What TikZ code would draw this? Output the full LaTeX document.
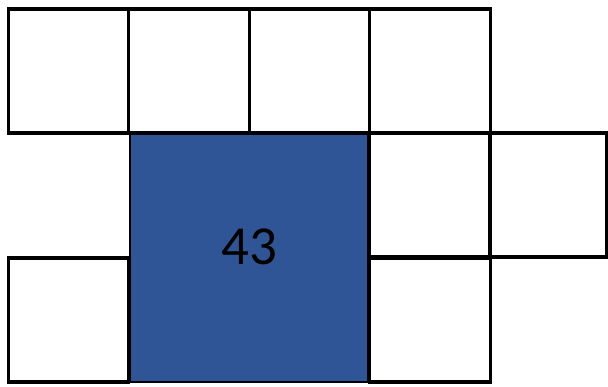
\documentclass[tikz,border=0pt]{standalone}
\usepackage{fontspec}
\setmainfont{Carlito}
\usetikzlibrary{positioning}
\definecolor{cellblue}{HTML}{2F5597}
\begin{document}
\begin{tikzpicture}[x=1pt,y=-1pt,
  cell/.style={draw,line width=3.2pt,minimum width=120.5pt,minimum height=124pt,inner sep=0pt,outer sep=0pt},
  bigcell/.style={fill=cellblue,draw,line width=2.4pt,minimum width=238pt,minimum height=249pt,inner sep=0pt,outer sep=0pt}]
  \useasboundingbox (0,0) rectangle (608,386);
  \node[bigcell,label={[font=\fontsize{55}{64}\selectfont,yshift=11pt]center:43}] (mid) at (249,257.5) {};
  % top row
  \foreach \i/\x in {1/68.5,2/189,3/309.5,4/430}
    \node[cell] (top\i) at (\x,71) {};
  % right of the blue square
  \node[cell] (right1) at (430,195) {};
  \node[cell,minimum width=117pt] (right2) at (548.5,195) {};
  % bottom row
  \node[cell] (bot1) at (68.5,320) {};
  \node[cell] (bot2) at (430,320) {};
\end{tikzpicture}
\end{document}
